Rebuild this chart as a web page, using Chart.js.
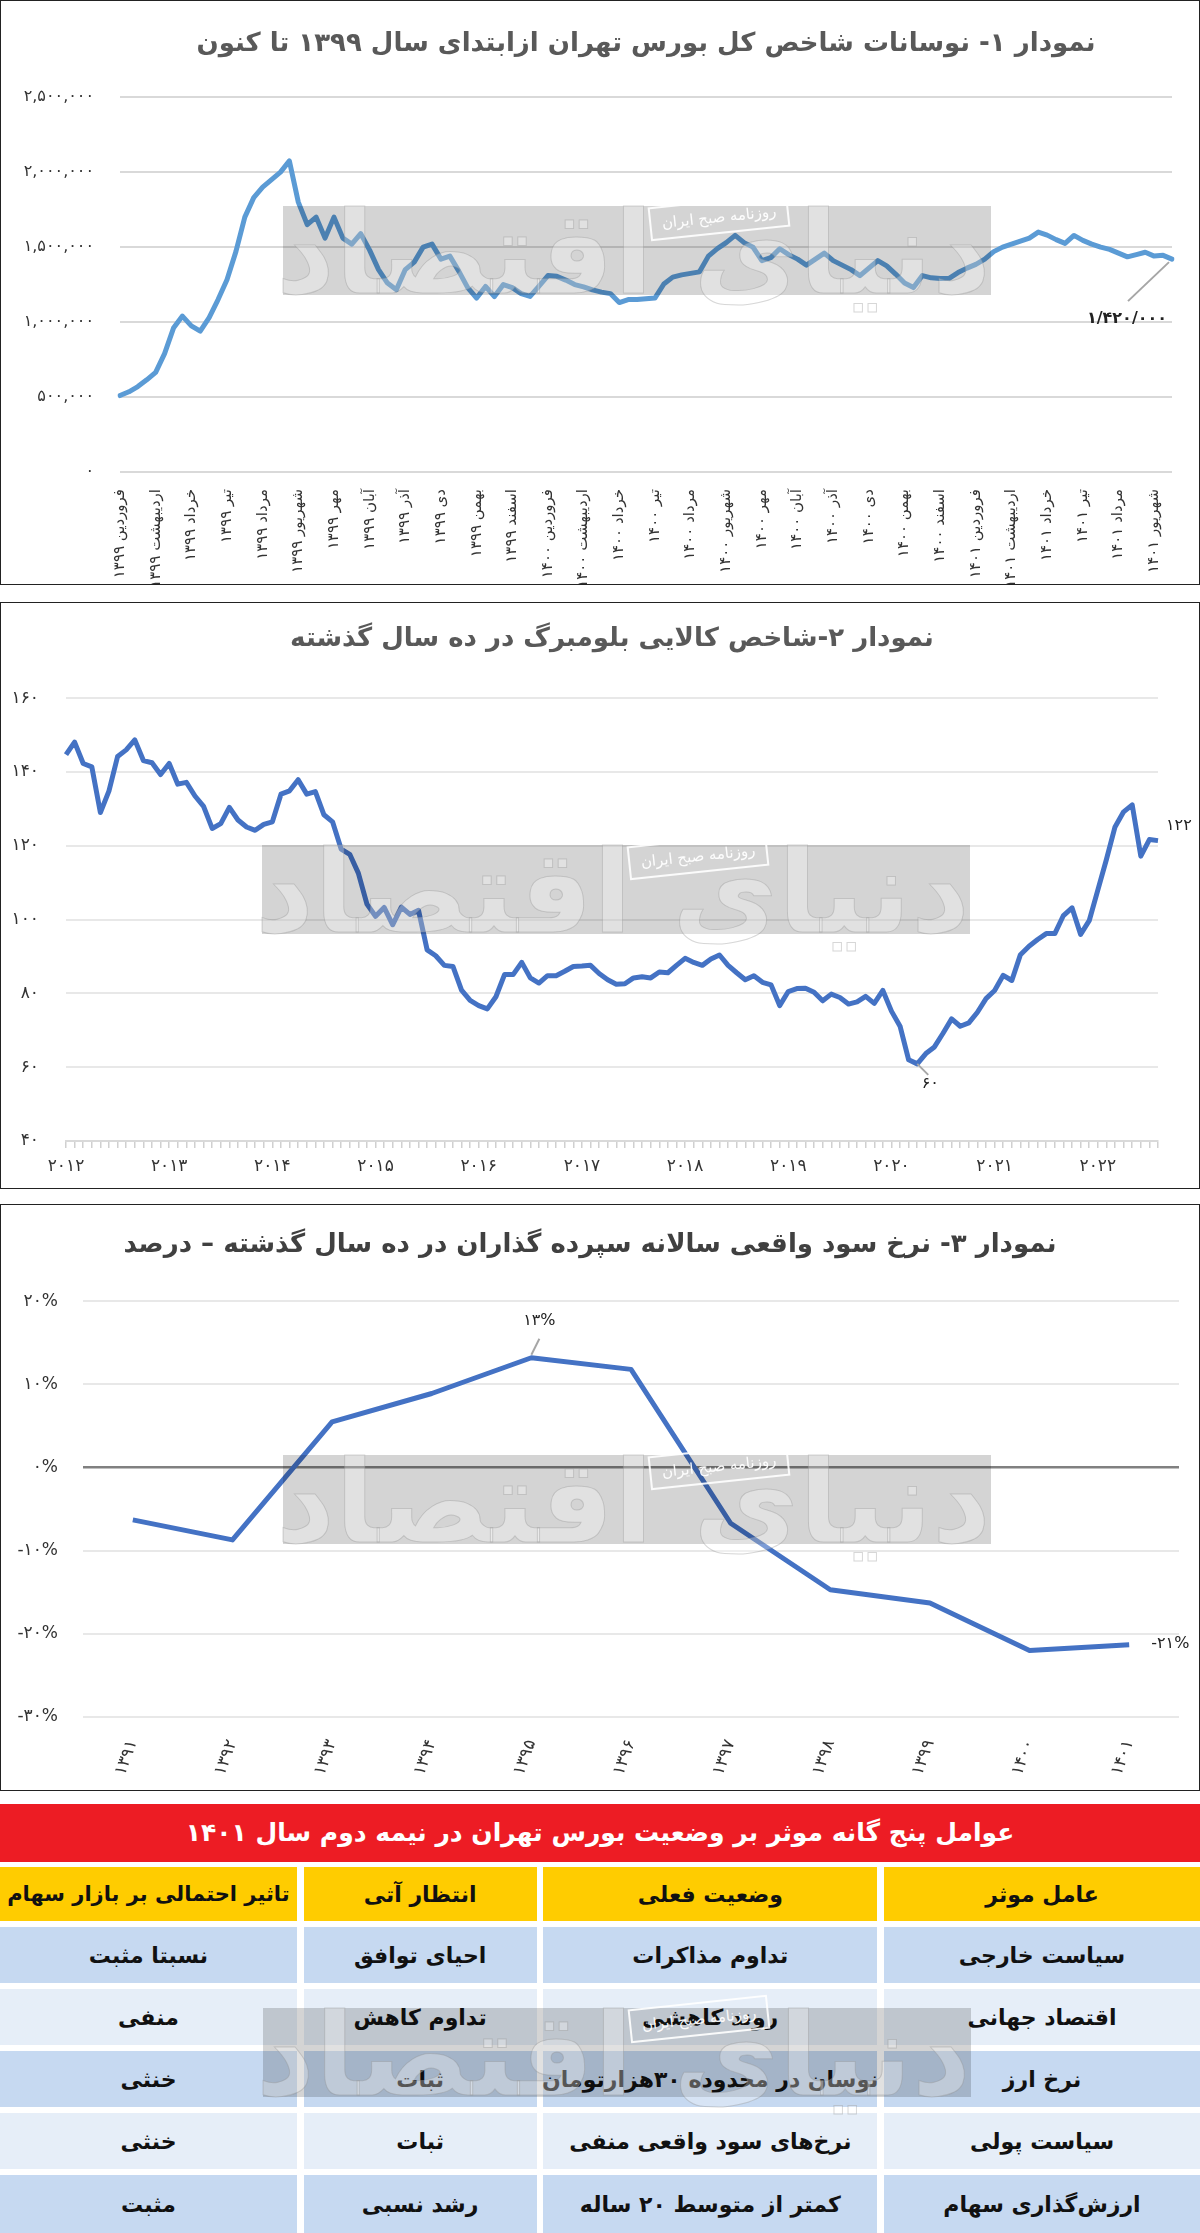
<!DOCTYPE html>
<html lang="fa">
<head>
<meta charset="utf-8">
<script src="https://cdn.jsdelivr.net/npm/chart.js@4.4.1/dist/chart.umd.min.js"></script>
<style>
  html, body { margin: 0; padding: 0; background: #fff; }
  body { width: 1200px; height: 2233px; position: relative; overflow: hidden; font-family: 'DejaVu Sans', sans-serif; }
  .panel { position: absolute; left: 0; width: 1200px; box-sizing: border-box; border: 1px solid #222; background: #fff; }
  .panel canvas { display: block; }
  .wm { position: absolute; background: rgba(0,0,0,0.17); pointer-events: none; z-index: 5; }
  .wm .big { position: absolute; left: 0; width: 100%; top: -38px; text-align: center; font: bold 115px 'DejaVu Sans', sans-serif;
    color: rgba(255,255,255,0.3); -webkit-text-stroke: 1px rgba(140,140,140,0.35); white-space: nowrap; line-height: 170px; }
  .wm .tag { position: absolute; left: 366px; top: -6px; width: 136px; height: 30px; border: 2px solid rgba(255,255,255,0.9);
    color: rgba(255,255,255,0.95); font: 15px 'DejaVu Sans', sans-serif; text-align: center; line-height: 30px; transform: rotate(-6deg); direction: rtl; }
  #tbl { position: absolute; left: 0; top: 1804px; width: 1200px; direction: rtl; font-family: 'DejaVu Sans', sans-serif; }
  #tbl .head { height: 58px; background: #ED1C24; color: #fff; font-weight: bold; font-size: 25px; text-align: center; line-height: 58px; }
  #tbl .grid { margin-top: 5px; display: grid; grid-template-columns: 316px 334px 233px 297px; column-gap: 6.7px; row-gap: 6px;
    grid-template-rows: 54px 56px 56px 56px 56px 58px; }
  #tbl .grid div { display: flex; align-items: center; justify-content: center; font-weight: bold; font-size: 22px; color: #111; white-space: nowrap; }
  #tbl .grid .h { background: #FFCC00; }
  #tbl .grid .h.long { font-size: 21px; }
  #tbl .grid .r0 { background: #C6D9F1; }
  #tbl .grid .r1 { background: #E6EEF8; }
</style>
</head>
<body>
<div class="panel" style="top:0;height:585px;"><canvas id="c1" width="1198" height="583" dir="rtl"></canvas></div>
<div class="panel" style="top:602px;height:587px;"><canvas id="c2" width="1198" height="585" dir="rtl"></canvas></div>
<div class="panel" style="top:1204px;height:587px;"><canvas id="c3" width="1198" height="585" dir="ltr"></canvas></div>
<div id="tbl"></div>

<script>
// ---- chart 1: Tehran stock exchange index since start of 1399 (quarter-month samples)
var months1 = ['فروردین ۱۳۹۹', 'اردیبهشت ۱۳۹۹', 'خرداد ۱۳۹۹', 'تیر ۱۳۹۹', 'مرداد ۱۳۹۹', 'شهریور ۱۳۹۹',
  'مهر ۱۳۹۹', 'آبان ۱۳۹۹', 'آذر ۱۳۹۹', 'دی ۱۳۹۹', 'بهمن ۱۳۹۹', 'اسفند ۱۳۹۹',
  'فروردین ۱۴۰۰', 'اردیبهشت ۱۴۰۰', 'خرداد ۱۴۰۰', 'تیر ۱۴۰۰', 'مرداد ۱۴۰۰', 'شهریور ۱۴۰۰',
  'مهر ۱۴۰۰', 'آبان ۱۴۰۰', 'آذر ۱۴۰۰', 'دی ۱۴۰۰', 'بهمن ۱۴۰۰', 'اسفند ۱۴۰۰',
  'فروردین ۱۴۰۱', 'اردیبهشت ۱۴۰۱', 'خرداد ۱۴۰۱', 'تیر ۱۴۰۱', 'مرداد ۱۴۰۱', 'شهریور ۱۴۰۱'];
var tedpix = [
  510000, 535000, 570000, 615000, 665000, 790000, 960000, 1040000, 975000, 940000,
  1030000, 1150000, 1283000, 1470000, 1700000, 1830000, 1900000, 1950000, 2000000, 2075000,
  1800000, 1650000, 1700000, 1560000, 1700000, 1560000, 1520000, 1590000, 1480000, 1350000,
  1260000, 1216000, 1350000, 1400000, 1500000, 1520000, 1420000, 1440000, 1340000, 1230000,
  1160000, 1238000, 1170000, 1250000, 1230000, 1190000, 1171000, 1240000, 1310000, 1305000,
  1280000, 1250000, 1235000, 1215000, 1200000, 1190000, 1130000, 1150000, 1150000, 1155000,
  1160000, 1254000, 1300000, 1315000, 1325000, 1335000, 1440000, 1490000, 1530000, 1578000,
  1530000, 1500000, 1410000, 1430000, 1489000, 1450000, 1420000, 1380000, 1420000, 1460000,
  1410000, 1380000, 1350000, 1310000, 1360000, 1410000, 1375000, 1320000, 1260000, 1230000,
  1310000, 1295000, 1290000, 1292000, 1330000, 1360000, 1385000, 1420000, 1470000, 1500000,
  1520000, 1540000, 1560000, 1600000, 1580000, 1550000, 1525000, 1578000, 1545000, 1520000,
  1500000, 1485000, 1460000, 1435000, 1450000, 1466000, 1440000, 1445000, 1420000];
var samplesPerMonth = 4;
var lastLabel1 = '۱/۴۲۰/۰۰۰';

// ---- chart 2: Bloomberg commodity index, monthly
var years2 = ['۲۰۱۲', '۲۰۱۳', '۲۰۱۴', '۲۰۱۵', '۲۰۱۶', '۲۰۱۷', '۲۰۱۸', '۲۰۱۹', '۲۰۲۰', '۲۰۲۱', '۲۰۲۲'];
var bcom = [
  144.7, 148.1, 142.3, 141.4, 129.0, 134.9, 144.2, 146.0, 148.7, 143.1,
  142.5, 139.3, 142.3, 136.7, 137.2, 133.5, 130.7, 124.7, 126.0, 130.4,
  127.0, 125.1, 124.2, 125.8, 126.5, 134.0, 134.9, 137.9, 134.0, 134.7,
  128.4, 126.5, 119.1, 117.7, 112.6, 104.2, 100.9, 103.3, 98.6, 103.4,
  101.4, 102.5, 91.8, 90.2, 87.6, 87.3, 80.9, 78.1, 76.7, 75.8,
  79.1, 85.1, 85.1, 88.4, 84.2, 82.8, 84.8, 84.8, 86.0, 87.3,
  87.4, 87.6, 85.4, 83.7, 82.5, 82.6, 84.2, 84.5, 84.2, 85.8,
  85.6, 87.6, 89.5, 88.4, 87.6, 89.3, 90.4, 87.6, 85.6, 83.7,
  84.8, 83.0, 82.3, 76.7, 80.5, 81.3, 81.4, 80.3, 78.0, 79.8,
  78.9, 77.1, 77.7, 79.2, 77.3, 80.8, 75.2, 71.1, 62.0, 60.9,
  63.7, 65.5, 69.2, 73.1, 71.1, 72.0, 74.9, 78.6, 80.8, 84.9,
  83.5, 90.5, 92.8, 94.6, 96.2, 96.2, 101.1, 103.2, 96.0, 99.7,
  108.0, 116.3, 125.1, 129.2, 131.1, 117.2, 121.7, 121.4];
var minLabel2 = '۶۰';
var lastLabel2 = '۱۲۲';

// ---- chart 3: real annual deposit rate, percent
var years3 = ['۱۳۹۱', '۱۳۹۲', '۱۳۹۳', '۱۳۹۴', '۱۳۹۵', '۱۳۹۶', '۱۳۹۷', '۱۳۹۸', '۱۳۹۹', '۱۴۰۰', '۱۴۰۱'];
var realRate = [-6.3, -8.7, 5.5, 8.9, 13.2, 11.8, -6.7, -14.7, -16.3, -22.0, -21.3];
var peakLabel3 = '۱۳%';
var lastLabel3 = '-۲۱%';

// ---- table
var tableTitle = 'عوامل پنج گانه موثر بر وضعیت بورس تهران در نیمه دوم سال ۱۴۰۱';
var tableHead = ['عامل موثر', 'وضعیت فعلی', 'انتظار آتی', 'تاثیر احتمالی بر بازار سهام'];
var tableRows = [
  ['سیاست خارجی', 'تداوم مذاکرات', 'احیای توافق', 'نسبتا مثبت'],
  ['اقتصاد جهانی', 'روند کاهشی', 'تداوم کاهش', 'منفی'],
  ['نرخ ارز', 'نوسان در محدوده ۳۰هزارتومان', 'ثبات', 'خنثی'],
  ['سیاست پولی', 'نرخ‌های سود واقعی منفی', 'ثبات', 'خنثی'],
  ['ارزش‌گذاری سهام', 'کمتر از متوسط ۲۰ ساله', 'رشد نسبی', 'مثبت']
];

var FONT = 'DejaVu Sans';
function toFa(s) {
  return String(s).replace(/\d/g, function(d) { return '۰۱۲۳۴۵۶۷۸۹'[d]; });
}

// draws a text label (and optional leader line) next to a data point
function pointLabel(idx, text, dx, dy, align, lead) {
  return {
    id: 'lbl' + idx + text,
    afterDatasetsDraw: function(chart) {
      var p = chart.getDatasetMeta(0).data[idx];
      var ctx = chart.ctx;
      ctx.save();
      if (lead) {
        ctx.strokeStyle = '#a6a6a6';
        ctx.lineWidth = 2;
        ctx.beginPath();
        ctx.moveTo(p.x + lead[0], p.y + lead[1]);
        ctx.lineTo(p.x + lead[2], p.y + lead[3]);
        ctx.stroke();
      }
      ctx.fillStyle = '#222';
      ctx.font = (lead && lead[4] ? 'bold ' : '') + '16px "' + FONT + '"';
      ctx.textAlign = align;
      ctx.textBaseline = 'middle';
      ctx.fillText(text, p.x + dx, p.y + dy);
      ctx.restore();
    }
  };
}

Chart.defaults.font.family = FONT;

// Chart 1
var idx1 = tedpix.map(function(v, i) { return i; });
new Chart(document.getElementById('c1'), {
  type: 'line',
  data: {
    labels: idx1,
    datasets: [{
      data: tedpix, borderColor: '#5B9BD5', borderWidth: 5, pointRadius: 0,
      tension: 0, borderJoinStyle: 'round', borderCapStyle: 'round'
    }]
  },
  options: {
    responsive: false, animation: false,
    layout: { padding: { left: 0, right: 14, top: 0, bottom: 0 } },
    plugins: {
      legend: { display: false }, tooltip: { enabled: false },
      title: {
        display: true, fullSize: false,
        text: 'نمودار ۱- نوسانات شاخص کل بورس تهران ازابتدای سال ۱۳۹۹ تا کنون',
        color: '#595959', font: { family: FONT, size: 26, weight: 'bold' },
        padding: { top: 28, bottom: 37 }
      }
    },
    scales: {
      x: {
        type: 'category', offset: false,
        grid: { display: false }, border: { display: false },
        ticks: {
          autoSkip: false, minRotation: 90, maxRotation: 90, padding: 9,
          color: '#333', font: { family: FONT, size: 15 },
          callback: function(v, i) { return i % samplesPerMonth === 0 ? (months1[i / samplesPerMonth] || '') : ''; }
        },
        afterFit: function(s) { s.height = 112; }
      },
      y: {
        min: 0, max: 2500000,
        grid: { color: '#d9d9d9', lineWidth: 2, drawTicks: false }, border: { display: false },
        ticks: {
          stepSize: 500000, padding: 26, color: '#333', font: { family: FONT, size: 16 },
          callback: function(v) { return toFa(v.toLocaleString('en-US')); }
        },
        afterFit: function(s) { s.width = 119; }
      }
    }
  },
  plugins: [pointLabel(tedpix.length - 1, lastLabel1, -45, 60, 'center', [-3, 3, -44, 42, true])]
});

// Chart 2
var labels2 = [];
years2.forEach(function(y) {
  for (var m = 0; m < 12; m++) labels2.push(m === 0 ? y : '');
});
labels2 = labels2.slice(0, bcom.length);
var minIdx2 = bcom.indexOf(Math.min.apply(null, bcom));

new Chart(document.getElementById('c2'), {
  type: 'line',
  data: {
    labels: labels2,
    datasets: [{
      data: bcom, borderColor: '#4472C4', borderWidth: 5, pointRadius: 0,
      tension: 0, borderJoinStyle: 'round'
    }]
  },
  options: {
    responsive: false, animation: false,
    layout: { padding: { left: 0, right: 41, top: 0, bottom: 0 } },
    plugins: {
      legend: { display: false }, tooltip: { enabled: false },
      title: {
        display: true, fullSize: false,
        text: 'نمودار ۲-شاخص کالایی بلومبرگ در ده سال گذشته',
        color: '#595959', font: { family: FONT, size: 26, weight: 'bold' },
        padding: { top: 21, bottom: 43 }
      }
    },
    scales: {
      x: {
        type: 'category', offset: false,
        grid: { display: true, drawOnChartArea: false, drawTicks: true, tickLength: 7, color: '#d0d0d0', lineWidth: 1.5 },
        border: { display: true, color: '#d9d9d9', width: 2 },
        ticks: { autoSkip: false, maxRotation: 0, minRotation: 0, padding: 8, color: '#333', font: { family: FONT, size: 17 } },
        afterFit: function(s) { s.height = 47; }
      },
      y: {
        min: 40, max: 160,
        grid: { color: '#e8e8e8', lineWidth: 2, drawTicks: false }, border: { display: false },
        ticks: {
          stepSize: 20, padding: 27, color: '#333', font: { family: FONT, size: 17 },
          callback: function(v) { return toFa(v); }
        },
        afterFit: function(s) { s.width = 65; }
      }
    }
  },
  plugins: [
    pointLabel(minIdx2, minLabel2, 13, 20, 'center', [0, 0, 11, 11, false]),
    pointLabel(bcom.length - 1, lastLabel2, 8, -15, 'left', null)
  ]
});

// Chart 3
var peakIdx3 = realRate.indexOf(Math.max.apply(null, realRate));
new Chart(document.getElementById('c3'), {
  type: 'line',
  data: {
    labels: years3,
    datasets: [{
      data: realRate, borderColor: '#4472C4', borderWidth: 5, pointRadius: 0,
      tension: 0, borderJoinStyle: 'round'
    }]
  },
  options: {
    responsive: false, animation: false,
    layout: { padding: { left: 0, right: 20, top: 0, bottom: 0 } },
    plugins: {
      legend: { display: false }, tooltip: { enabled: false },
      title: {
        display: true, fullSize: true,
        text: 'نمودار ۳- نرخ سود واقعی سالانه سپرده گذاران در ده سال گذشته – درصد',
        color: '#404040', font: { family: FONT, size: 26, weight: 'bold' },
        padding: { top: 25, bottom: 40 }
      }
    },
    scales: {
      x: {
        type: 'category', offset: true,
        grid: { display: false }, border: { display: false },
        ticks: { autoSkip: false, minRotation: 70, maxRotation: 70, padding: 12, color: '#333', font: { family: FONT, size: 17 } },
        afterFit: function(s) { s.height = 73; }
      },
      y: {
        min: -30, max: 20,
        grid: {
          drawTicks: false,
          color: function(c) { return c.tick && c.tick.value === 0 ? '#808080' : '#e8e8e8'; },
          lineWidth: function(c) { return c.tick && c.tick.value === 0 ? 2.5 : 2; }
        },
        border: { display: false },
        ticks: {
          stepSize: 10, padding: 25, color: '#333', font: { family: FONT, size: 17 },
          callback: function(v) { return (v < 0 ? '-' : '') + toFa(Math.abs(v)) + '%'; }
        },
        afterFit: function(s) { s.width = 82; }
      }
    }
  },
  plugins: [
    pointLabel(peakIdx3, peakLabel3, 8, -37, 'center', [0, -3, 8, -19, false]),
    pointLabel(realRate.length - 1, lastLabel3, 22, -1, 'left', null)
  ]
});

// Table
var tbl = document.getElementById('tbl');
var html = '<div class="head">' + tableTitle + '</div><div class="grid">';
tableHead.forEach(function(t, i) { html += '<div class="h' + (i === 3 ? ' long' : '') + '">' + t + '</div>'; });
tableRows.forEach(function(row, r) {
  row.forEach(function(t) { html += '<div class="r' + (r % 2) + '">' + t + '</div>'; });
});
html += '</div>';
tbl.innerHTML = html;

// newspaper watermark boxes
function watermark(x, y) {
  var d = document.createElement('div');
  d.className = 'wm';
  d.style.left = x + 'px';
  d.style.top = y + 'px';
  d.style.width = '708px';
  d.style.height = '89px';
  d.innerHTML = '<div class="big" dir="rtl">دنیای اقتصاد</div><div class="tag">روزنامه صبح ایران</div>';
  document.body.appendChild(d);
}
watermark(283, 206);
watermark(262, 845);
watermark(283, 1455);
watermark(263, 2008);
</script>
</body>
</html>
